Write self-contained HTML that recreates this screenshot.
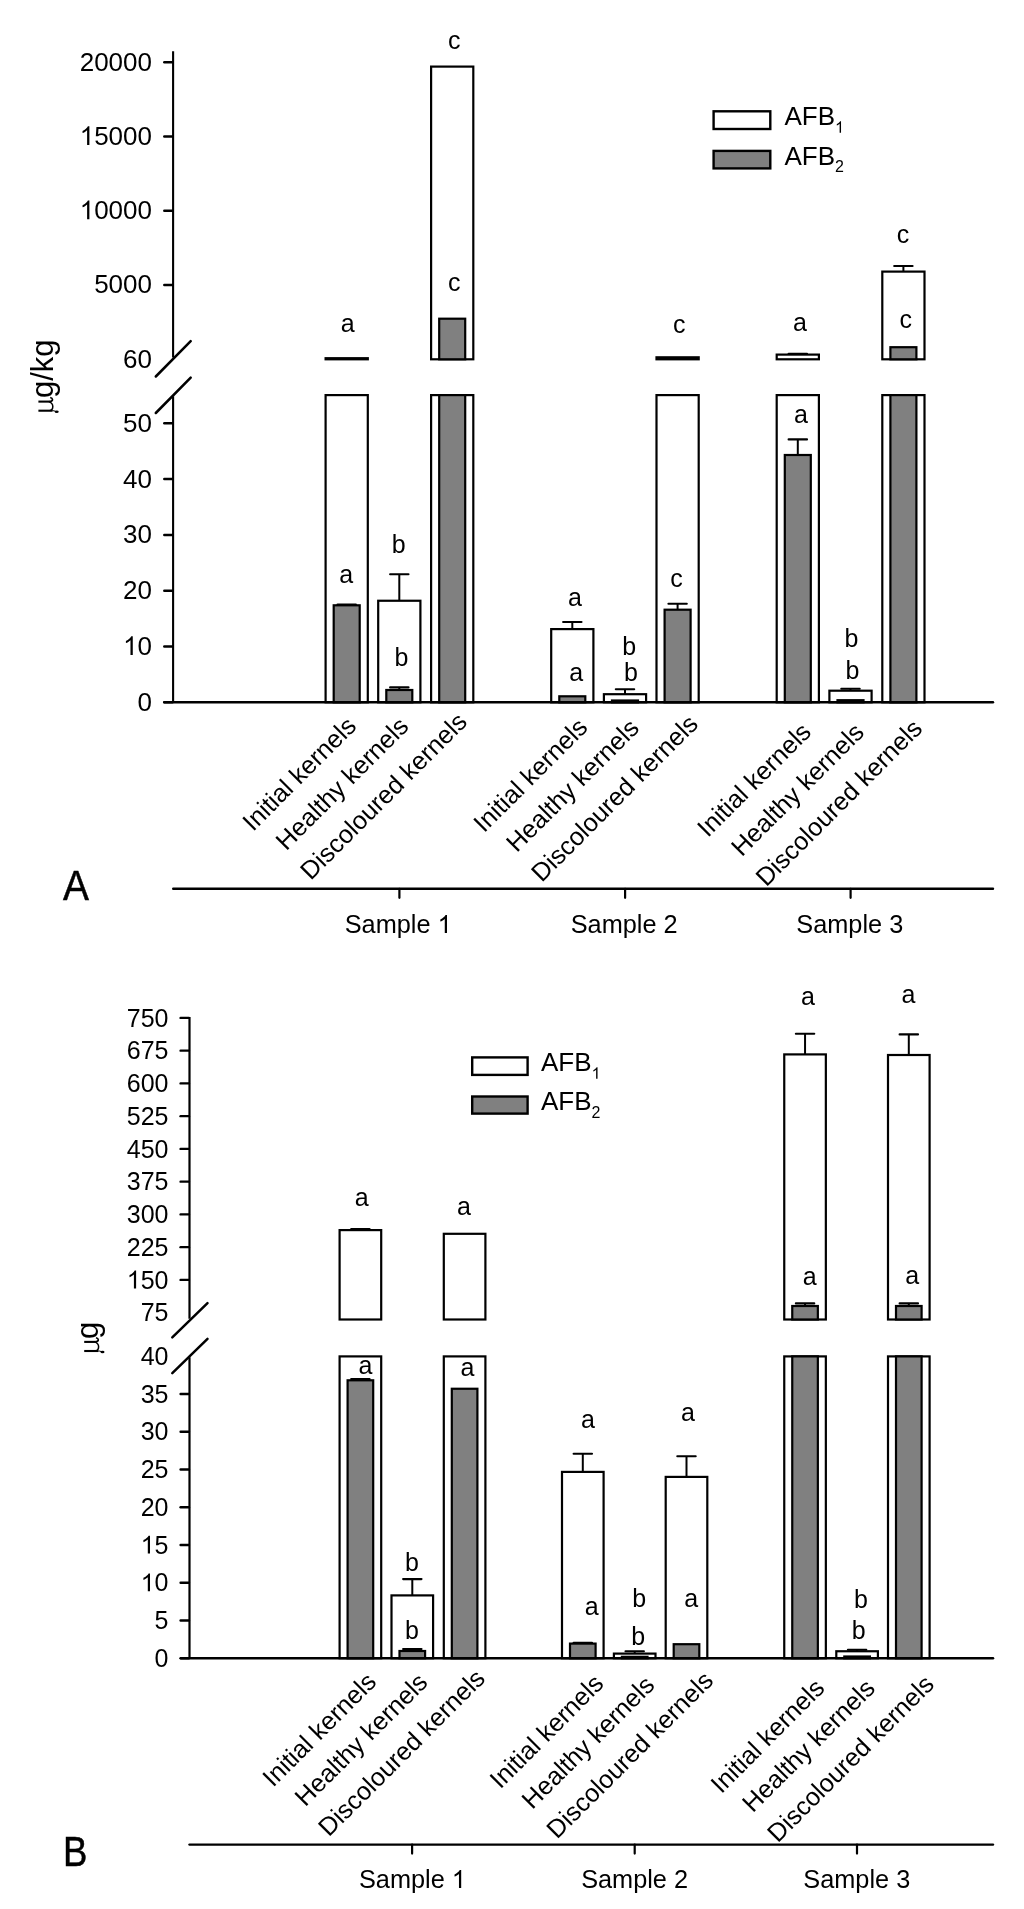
<!DOCTYPE html>
<html><head><meta charset="utf-8"><title>Aflatoxin chart</title>
<style>
html,body{margin:0;padding:0;background:#fff;}
svg{display:block;will-change:transform;}
svg text{font-family:"Liberation Sans", sans-serif;fill:#000;}
</style></head>
<body>
<svg width="1024" height="1909" viewBox="0 0 1024 1909">
<rect x="0" y="0" width="1024" height="1909" fill="#fff"/>
<g>
<rect x="325.60" y="395.10" width="42.20" height="307.20" fill="#fff" stroke="#000" stroke-width="2.2"/>
<rect x="325.60" y="358.20" width="42.20" height="1.10" fill="#fff" stroke="#000" stroke-width="2.2"/>
<rect x="333.70" y="605.30" width="26.00" height="97.00" fill="#808080" stroke="#000" stroke-width="2.2"/>
<line x1="346.70" y1="605.30" x2="346.70" y2="604.60" stroke="#000" stroke-width="2.0" stroke-linecap="butt"/>
<line x1="337.50" y1="604.60" x2="355.90" y2="604.60" stroke="#000" stroke-width="2.1" stroke-linecap="round"/>
<rect x="378.20" y="600.75" width="42.20" height="101.55" fill="#fff" stroke="#000" stroke-width="2.2"/>
<line x1="399.30" y1="600.75" x2="399.30" y2="574.20" stroke="#000" stroke-width="2.0" stroke-linecap="butt"/>
<line x1="390.10" y1="574.20" x2="408.50" y2="574.20" stroke="#000" stroke-width="2.1" stroke-linecap="round"/>
<rect x="386.30" y="690.00" width="26.00" height="12.30" fill="#808080" stroke="#000" stroke-width="2.2"/>
<line x1="399.30" y1="690.00" x2="399.30" y2="687.40" stroke="#000" stroke-width="2.0" stroke-linecap="butt"/>
<line x1="390.10" y1="687.40" x2="408.50" y2="687.40" stroke="#000" stroke-width="2.1" stroke-linecap="round"/>
<rect x="431.10" y="395.10" width="42.20" height="307.20" fill="#fff" stroke="#000" stroke-width="2.2"/>
<rect x="431.10" y="66.60" width="42.20" height="292.70" fill="#fff" stroke="#000" stroke-width="2.2"/>
<rect x="439.20" y="395.10" width="26.00" height="307.20" fill="#808080" stroke="#000" stroke-width="2.2"/>
<rect x="439.20" y="318.70" width="26.00" height="40.60" fill="#808080" stroke="#000" stroke-width="2.2"/>
<rect x="551.20" y="629.10" width="42.20" height="73.20" fill="#fff" stroke="#000" stroke-width="2.2"/>
<line x1="572.30" y1="629.10" x2="572.30" y2="622.00" stroke="#000" stroke-width="2.0" stroke-linecap="butt"/>
<line x1="563.10" y1="622.00" x2="581.50" y2="622.00" stroke="#000" stroke-width="2.1" stroke-linecap="round"/>
<rect x="559.30" y="696.30" width="26.00" height="6.00" fill="#808080" stroke="#000" stroke-width="2.2"/>
<rect x="603.90" y="694.20" width="42.20" height="8.10" fill="#fff" stroke="#000" stroke-width="2.2"/>
<line x1="625.00" y1="694.20" x2="625.00" y2="689.20" stroke="#000" stroke-width="2.0" stroke-linecap="butt"/>
<line x1="615.80" y1="689.20" x2="634.20" y2="689.20" stroke="#000" stroke-width="2.1" stroke-linecap="round"/>
<rect x="612.00" y="700.50" width="26.00" height="1.80" fill="#808080" stroke="#000" stroke-width="2.2"/>
<rect x="656.50" y="395.10" width="42.20" height="307.20" fill="#fff" stroke="#000" stroke-width="2.2"/>
<rect x="656.50" y="357.30" width="42.20" height="2.00" fill="#fff" stroke="#000" stroke-width="2.2"/>
<rect x="664.60" y="609.70" width="26.00" height="92.60" fill="#808080" stroke="#000" stroke-width="2.2"/>
<line x1="677.60" y1="609.70" x2="677.60" y2="603.70" stroke="#000" stroke-width="2.0" stroke-linecap="butt"/>
<line x1="668.40" y1="603.70" x2="686.80" y2="603.70" stroke="#000" stroke-width="2.1" stroke-linecap="round"/>
<rect x="776.70" y="395.10" width="42.20" height="307.20" fill="#fff" stroke="#000" stroke-width="2.2"/>
<rect x="776.70" y="354.60" width="42.20" height="4.70" fill="#fff" stroke="#000" stroke-width="2.2"/>
<line x1="797.80" y1="354.60" x2="797.80" y2="353.80" stroke="#000" stroke-width="2.0" stroke-linecap="butt"/>
<line x1="788.60" y1="353.80" x2="807.00" y2="353.80" stroke="#000" stroke-width="2.1" stroke-linecap="round"/>
<rect x="784.80" y="455.00" width="26.00" height="247.30" fill="#808080" stroke="#000" stroke-width="2.2"/>
<line x1="797.80" y1="455.00" x2="797.80" y2="439.40" stroke="#000" stroke-width="2.0" stroke-linecap="butt"/>
<line x1="788.60" y1="439.40" x2="807.00" y2="439.40" stroke="#000" stroke-width="2.1" stroke-linecap="round"/>
<rect x="829.40" y="690.70" width="42.20" height="11.60" fill="#fff" stroke="#000" stroke-width="2.2"/>
<line x1="850.50" y1="690.70" x2="850.50" y2="688.80" stroke="#000" stroke-width="2.0" stroke-linecap="butt"/>
<line x1="841.30" y1="688.80" x2="859.70" y2="688.80" stroke="#000" stroke-width="2.1" stroke-linecap="round"/>
<rect x="837.50" y="700.20" width="26.00" height="2.10" fill="#808080" stroke="#000" stroke-width="2.2"/>
<rect x="882.30" y="395.10" width="42.20" height="307.20" fill="#fff" stroke="#000" stroke-width="2.2"/>
<rect x="882.30" y="271.60" width="42.20" height="87.70" fill="#fff" stroke="#000" stroke-width="2.2"/>
<line x1="903.40" y1="271.60" x2="903.40" y2="266.00" stroke="#000" stroke-width="2.0" stroke-linecap="butt"/>
<line x1="894.20" y1="266.00" x2="912.60" y2="266.00" stroke="#000" stroke-width="2.1" stroke-linecap="round"/>
<rect x="890.40" y="395.10" width="26.00" height="307.20" fill="#808080" stroke="#000" stroke-width="2.2"/>
<rect x="890.40" y="347.20" width="26.00" height="12.10" fill="#808080" stroke="#000" stroke-width="2.2"/>
</g>
<line x1="173.10" y1="51.25" x2="173.10" y2="357.50" stroke="#000" stroke-width="2.1" stroke-linecap="butt"/>
<line x1="173.10" y1="396.20" x2="173.10" y2="702.30" stroke="#000" stroke-width="2.1" stroke-linecap="butt"/>
<line x1="164.30" y1="702.30" x2="993.00" y2="702.30" stroke="#000" stroke-width="2.4" stroke-linecap="round"/>
<line x1="155.80" y1="376.50" x2="190.70" y2="341.10" stroke="#000" stroke-width="2.5" stroke-linecap="round"/>
<line x1="155.80" y1="413.00" x2="190.70" y2="377.70" stroke="#000" stroke-width="2.5" stroke-linecap="round"/>
<line x1="164.30" y1="62.25" x2="172.50" y2="62.25" stroke="#000" stroke-width="2.5" stroke-linecap="round"/>
<text x="152.00" y="70.65" font-size="26" text-anchor="end" >20000</text>
<line x1="164.30" y1="136.50" x2="172.50" y2="136.50" stroke="#000" stroke-width="2.5" stroke-linecap="round"/>
<path transform="translate(79.70 144.90) scale(0.01270 -0.01270)" d="M763 0H583V1147Q518 1085 412 1023Q307 961 223 930V1104Q374 1175 487 1276Q600 1377 647 1472H763Z" fill="#000"/>
<text x="152.00" y="144.90" font-size="26" text-anchor="end" > 5000</text>
<line x1="164.30" y1="210.75" x2="172.50" y2="210.75" stroke="#000" stroke-width="2.5" stroke-linecap="round"/>
<path transform="translate(79.70 219.15) scale(0.01270 -0.01270)" d="M763 0H583V1147Q518 1085 412 1023Q307 961 223 930V1104Q374 1175 487 1276Q600 1377 647 1472H763Z" fill="#000"/>
<text x="152.00" y="219.15" font-size="26" text-anchor="end" > 0000</text>
<line x1="164.30" y1="285.00" x2="172.50" y2="285.00" stroke="#000" stroke-width="2.5" stroke-linecap="round"/>
<text x="152.00" y="293.40" font-size="26" text-anchor="end" >5000</text>
<text x="152.00" y="367.70" font-size="26" text-anchor="end" >60</text>
<line x1="164.30" y1="423.30" x2="172.50" y2="423.30" stroke="#000" stroke-width="2.5" stroke-linecap="round"/>
<text x="152.00" y="431.70" font-size="26" text-anchor="end" >50</text>
<line x1="164.30" y1="479.10" x2="172.50" y2="479.10" stroke="#000" stroke-width="2.5" stroke-linecap="round"/>
<text x="152.00" y="487.50" font-size="26" text-anchor="end" >40</text>
<line x1="164.30" y1="534.90" x2="172.50" y2="534.90" stroke="#000" stroke-width="2.5" stroke-linecap="round"/>
<text x="152.00" y="543.30" font-size="26" text-anchor="end" >30</text>
<line x1="164.30" y1="590.70" x2="172.50" y2="590.70" stroke="#000" stroke-width="2.5" stroke-linecap="round"/>
<text x="152.00" y="599.10" font-size="26" text-anchor="end" >20</text>
<line x1="164.30" y1="646.50" x2="172.50" y2="646.50" stroke="#000" stroke-width="2.5" stroke-linecap="round"/>
<path transform="translate(123.08 654.90) scale(0.01270 -0.01270)" d="M763 0H583V1147Q518 1085 412 1023Q307 961 223 930V1104Q374 1175 487 1276Q600 1377 647 1472H763Z" fill="#000"/>
<text x="152.00" y="654.90" font-size="26" text-anchor="end" > 0</text>
<line x1="164.30" y1="702.30" x2="172.50" y2="702.30" stroke="#000" stroke-width="2.5" stroke-linecap="round"/>
<text x="152.00" y="710.70" font-size="26" text-anchor="end" >0</text>
<text x="347.60" y="332.25" font-size="25" text-anchor="middle" >a</text>
<text x="346.20" y="582.80" font-size="25" text-anchor="middle" >a</text>
<text x="398.60" y="553.40" font-size="25" text-anchor="middle" >b</text>
<text x="401.50" y="665.90" font-size="25" text-anchor="middle" >b</text>
<text x="454.20" y="48.50" font-size="25" text-anchor="middle" >c</text>
<text x="454.30" y="290.60" font-size="25" text-anchor="middle" >c</text>
<text x="574.85" y="605.60" font-size="25" text-anchor="middle" >a</text>
<text x="576.20" y="680.60" font-size="25" text-anchor="middle" >a</text>
<text x="629.20" y="655.25" font-size="25" text-anchor="middle" >b</text>
<text x="630.90" y="680.60" font-size="25" text-anchor="middle" >b</text>
<text x="679.30" y="332.50" font-size="25" text-anchor="middle" >c</text>
<text x="676.50" y="587.20" font-size="25" text-anchor="middle" >c</text>
<text x="799.90" y="331.00" font-size="25" text-anchor="middle" >a</text>
<text x="800.85" y="422.75" font-size="25" text-anchor="middle" >a</text>
<text x="851.50" y="646.50" font-size="25" text-anchor="middle" >b</text>
<text x="852.40" y="678.75" font-size="25" text-anchor="middle" >b</text>
<text x="903.00" y="242.50" font-size="25" text-anchor="middle" >c</text>
<text x="905.85" y="327.80" font-size="25" text-anchor="middle" >c</text>
<rect x="713.60" y="111.30" width="56.70" height="17.70" fill="#fff" stroke="#000" stroke-width="2.4"/>
<rect x="713.60" y="150.90" width="56.70" height="17.50" fill="#808080" stroke="#000" stroke-width="2.4"/>
<text x="784.50" y="125.30" font-size="26" text-anchor="start" >AFB<tspan font-size="16" dy="7.4"> </tspan></text>
<path transform="translate(835.07 132.70) scale(0.00781 -0.00781)" d="M763 0H583V1147Q518 1085 412 1023Q307 961 223 930V1104Q374 1175 487 1276Q600 1377 647 1472H763Z" fill="#000"/>
<text x="784.50" y="164.50" font-size="26" text-anchor="start" >AFB<tspan font-size="16" dy="7.4">2</tspan></text>
<g transform="translate(52.10 410.70) rotate(-90) scale(1.0)" fill="none" stroke="#000" stroke-linecap="butt"><path d="M0 -13.7V0.3" stroke-width="2.1"/><path d="M0 0Q0.1 2.2 -0.6 3.3" stroke-width="1.0"/><ellipse cx="-1.0" cy="4.6" rx="1.25" ry="2.0" fill="#000" stroke="none"/><path d="M0.2 -2.2Q0.6 0.7 4.2 0.7Q7.7 0.7 9.1 -3.2" stroke-width="1.5"/><path d="M9.1 -13.7V-2.2" stroke-width="2.1"/><path d="M9.1 -2.6Q9.3 0.5 11.2 0.4Q12.7 0.3 13.3 -1.9" stroke-width="1.6"/></g>
<text x="0" y="0" font-size="31" text-anchor="start" transform="translate(52.60 398.00) rotate(-90)">g/kg</text>
<line x1="173.20" y1="888.80" x2="993.00" y2="888.80" stroke="#000" stroke-width="2.4" stroke-linecap="round"/>
<line x1="399.40" y1="888.80" x2="399.40" y2="897.80" stroke="#000" stroke-width="2.2" stroke-linecap="round"/>
<line x1="625.10" y1="888.80" x2="625.10" y2="897.80" stroke="#000" stroke-width="2.2" stroke-linecap="round"/>
<line x1="850.60" y1="888.80" x2="850.60" y2="897.80" stroke="#000" stroke-width="2.2" stroke-linecap="round"/>
<path transform="translate(437.57 933.10) scale(0.01235 -0.01235)" d="M763 0H583V1147Q518 1085 412 1023Q307 961 223 930V1104Q374 1175 487 1276Q600 1377 647 1472H763Z" fill="#000"/>
<text x="398.20" y="933.10" font-size="25.3" text-anchor="middle" >Sample  </text>
<text x="624.20" y="933.10" font-size="25.3" text-anchor="middle" >Sample 2</text>
<text x="849.80" y="933.10" font-size="25.3" text-anchor="middle" >Sample 3</text>
<text x="0" y="0" font-size="43" stroke="#000" stroke-width="0.5" transform="translate(63.00 899.60) scale(0.905 1)">A</text>
<text x="0" y="0" font-size="25.4" text-anchor="end" transform="translate(357.70 727.50) rotate(-45)">Initial kernels</text>
<text x="0" y="0" font-size="25.4" text-anchor="end" transform="translate(410.05 727.70) rotate(-45)">Healthy kernels</text>
<text x="0" y="0" font-size="25.4" text-anchor="end" transform="translate(468.50 723.30) rotate(-45)">Discoloured kernels</text>
<text x="0" y="0" font-size="25.4" text-anchor="end" transform="translate(588.90 728.80) rotate(-45)">Initial kernels</text>
<text x="0" y="0" font-size="25.4" text-anchor="end" transform="translate(640.50 729.60) rotate(-45)">Healthy kernels</text>
<text x="0" y="0" font-size="25.4" text-anchor="end" transform="translate(699.40 725.40) rotate(-45)">Discoloured kernels</text>
<text x="0" y="0" font-size="25.4" text-anchor="end" transform="translate(812.60 733.40) rotate(-45)">Initial kernels</text>
<text x="0" y="0" font-size="25.4" text-anchor="end" transform="translate(865.40 733.80) rotate(-45)">Healthy kernels</text>
<text x="0" y="0" font-size="25.4" text-anchor="end" transform="translate(923.80 729.90) rotate(-45)">Discoloured kernels</text>
<g>
<rect x="339.60" y="1356.40" width="41.60" height="301.85" fill="#fff" stroke="#000" stroke-width="2.2"/>
<rect x="339.60" y="1230.10" width="41.60" height="89.40" fill="#fff" stroke="#000" stroke-width="2.2"/>
<line x1="360.40" y1="1230.10" x2="360.40" y2="1229.10" stroke="#000" stroke-width="2.0" stroke-linecap="butt"/>
<line x1="351.20" y1="1229.10" x2="369.60" y2="1229.10" stroke="#000" stroke-width="2.1" stroke-linecap="round"/>
<rect x="347.60" y="1380.30" width="25.60" height="277.95" fill="#808080" stroke="#000" stroke-width="2.2"/>
<line x1="360.40" y1="1380.30" x2="360.40" y2="1379.00" stroke="#000" stroke-width="2.0" stroke-linecap="butt"/>
<line x1="351.20" y1="1379.00" x2="369.60" y2="1379.00" stroke="#000" stroke-width="2.1" stroke-linecap="round"/>
<rect x="391.50" y="1595.40" width="41.60" height="62.85" fill="#fff" stroke="#000" stroke-width="2.2"/>
<line x1="412.30" y1="1595.40" x2="412.30" y2="1579.10" stroke="#000" stroke-width="2.0" stroke-linecap="butt"/>
<line x1="403.10" y1="1579.10" x2="421.50" y2="1579.10" stroke="#000" stroke-width="2.1" stroke-linecap="round"/>
<rect x="399.50" y="1651.00" width="25.60" height="7.25" fill="#808080" stroke="#000" stroke-width="2.2"/>
<line x1="412.30" y1="1651.00" x2="412.30" y2="1649.10" stroke="#000" stroke-width="2.0" stroke-linecap="butt"/>
<line x1="403.10" y1="1649.10" x2="421.50" y2="1649.10" stroke="#000" stroke-width="2.1" stroke-linecap="round"/>
<rect x="443.80" y="1356.40" width="41.60" height="301.85" fill="#fff" stroke="#000" stroke-width="2.2"/>
<rect x="443.80" y="1233.80" width="41.60" height="85.70" fill="#fff" stroke="#000" stroke-width="2.2"/>
<rect x="451.80" y="1388.75" width="25.60" height="269.50" fill="#808080" stroke="#000" stroke-width="2.2"/>
<rect x="562.00" y="1471.90" width="41.60" height="186.35" fill="#fff" stroke="#000" stroke-width="2.2"/>
<line x1="582.80" y1="1471.90" x2="582.80" y2="1453.70" stroke="#000" stroke-width="2.0" stroke-linecap="butt"/>
<line x1="573.60" y1="1453.70" x2="592.00" y2="1453.70" stroke="#000" stroke-width="2.1" stroke-linecap="round"/>
<rect x="570.00" y="1643.60" width="25.60" height="14.65" fill="#808080" stroke="#000" stroke-width="2.2"/>
<line x1="582.80" y1="1643.60" x2="582.80" y2="1642.85" stroke="#000" stroke-width="2.0" stroke-linecap="butt"/>
<line x1="573.60" y1="1642.85" x2="592.00" y2="1642.85" stroke="#000" stroke-width="2.1" stroke-linecap="round"/>
<rect x="613.90" y="1653.60" width="41.60" height="4.65" fill="#fff" stroke="#000" stroke-width="2.2"/>
<line x1="634.70" y1="1653.60" x2="634.70" y2="1651.20" stroke="#000" stroke-width="2.0" stroke-linecap="butt"/>
<line x1="625.50" y1="1651.20" x2="643.90" y2="1651.20" stroke="#000" stroke-width="2.1" stroke-linecap="round"/>
<rect x="621.90" y="1656.80" width="25.60" height="1.45" fill="#808080" stroke="#000" stroke-width="2.2"/>
<rect x="665.70" y="1476.90" width="41.60" height="181.35" fill="#fff" stroke="#000" stroke-width="2.2"/>
<line x1="686.50" y1="1476.90" x2="686.50" y2="1456.30" stroke="#000" stroke-width="2.0" stroke-linecap="butt"/>
<line x1="677.30" y1="1456.30" x2="695.70" y2="1456.30" stroke="#000" stroke-width="2.1" stroke-linecap="round"/>
<rect x="673.70" y="1644.20" width="25.60" height="14.05" fill="#808080" stroke="#000" stroke-width="2.2"/>
<rect x="784.25" y="1356.40" width="41.60" height="301.85" fill="#fff" stroke="#000" stroke-width="2.2"/>
<rect x="784.25" y="1054.40" width="41.60" height="265.10" fill="#fff" stroke="#000" stroke-width="2.2"/>
<line x1="805.05" y1="1054.40" x2="805.05" y2="1033.80" stroke="#000" stroke-width="2.0" stroke-linecap="butt"/>
<line x1="795.85" y1="1033.80" x2="814.25" y2="1033.80" stroke="#000" stroke-width="2.1" stroke-linecap="round"/>
<rect x="792.25" y="1356.40" width="25.60" height="301.85" fill="#808080" stroke="#000" stroke-width="2.2"/>
<rect x="792.25" y="1306.00" width="25.60" height="13.50" fill="#808080" stroke="#000" stroke-width="2.2"/>
<line x1="805.05" y1="1306.00" x2="805.05" y2="1303.40" stroke="#000" stroke-width="2.0" stroke-linecap="butt"/>
<line x1="795.85" y1="1303.40" x2="814.25" y2="1303.40" stroke="#000" stroke-width="2.1" stroke-linecap="round"/>
<rect x="836.30" y="1651.25" width="41.60" height="7.00" fill="#fff" stroke="#000" stroke-width="2.2"/>
<line x1="857.10" y1="1651.25" x2="857.10" y2="1649.70" stroke="#000" stroke-width="2.0" stroke-linecap="butt"/>
<line x1="847.90" y1="1649.70" x2="866.30" y2="1649.70" stroke="#000" stroke-width="2.1" stroke-linecap="round"/>
<rect x="844.30" y="1656.50" width="25.60" height="1.75" fill="#808080" stroke="#000" stroke-width="2.2"/>
<rect x="888.00" y="1356.40" width="41.60" height="301.85" fill="#fff" stroke="#000" stroke-width="2.2"/>
<rect x="888.00" y="1055.00" width="41.60" height="264.50" fill="#fff" stroke="#000" stroke-width="2.2"/>
<line x1="908.80" y1="1055.00" x2="908.80" y2="1034.40" stroke="#000" stroke-width="2.0" stroke-linecap="butt"/>
<line x1="899.60" y1="1034.40" x2="918.00" y2="1034.40" stroke="#000" stroke-width="2.1" stroke-linecap="round"/>
<rect x="896.00" y="1356.40" width="25.60" height="301.85" fill="#808080" stroke="#000" stroke-width="2.2"/>
<rect x="896.00" y="1306.00" width="25.60" height="13.50" fill="#808080" stroke="#000" stroke-width="2.2"/>
<line x1="908.80" y1="1306.00" x2="908.80" y2="1303.40" stroke="#000" stroke-width="2.0" stroke-linecap="butt"/>
<line x1="899.60" y1="1303.40" x2="918.00" y2="1303.40" stroke="#000" stroke-width="2.1" stroke-linecap="round"/>
</g>
<line x1="189.50" y1="1016.90" x2="189.50" y2="1318.80" stroke="#000" stroke-width="2.2" stroke-linecap="butt"/>
<line x1="189.50" y1="1357.20" x2="189.50" y2="1658.25" stroke="#000" stroke-width="2.2" stroke-linecap="butt"/>
<line x1="181.00" y1="1658.25" x2="993.00" y2="1658.25" stroke="#000" stroke-width="2.5" stroke-linecap="round"/>
<line x1="172.30" y1="1337.30" x2="207.50" y2="1303.10" stroke="#000" stroke-width="2.5" stroke-linecap="round"/>
<line x1="172.30" y1="1373.20" x2="207.50" y2="1338.90" stroke="#000" stroke-width="2.5" stroke-linecap="round"/>
<line x1="180.60" y1="1017.90" x2="188.90" y2="1017.90" stroke="#000" stroke-width="2.4" stroke-linecap="round"/>
<text x="168.50" y="1026.50" font-size="25" text-anchor="end" >750</text>
<line x1="180.60" y1="1050.65" x2="188.90" y2="1050.65" stroke="#000" stroke-width="2.4" stroke-linecap="round"/>
<text x="168.50" y="1059.25" font-size="25" text-anchor="end" >675</text>
<line x1="180.60" y1="1083.40" x2="188.90" y2="1083.40" stroke="#000" stroke-width="2.4" stroke-linecap="round"/>
<text x="168.50" y="1092.00" font-size="25" text-anchor="end" >600</text>
<line x1="180.60" y1="1116.16" x2="188.90" y2="1116.16" stroke="#000" stroke-width="2.4" stroke-linecap="round"/>
<text x="168.50" y="1124.76" font-size="25" text-anchor="end" >525</text>
<line x1="180.60" y1="1148.91" x2="188.90" y2="1148.91" stroke="#000" stroke-width="2.4" stroke-linecap="round"/>
<text x="168.50" y="1157.51" font-size="25" text-anchor="end" >450</text>
<line x1="180.60" y1="1181.66" x2="188.90" y2="1181.66" stroke="#000" stroke-width="2.4" stroke-linecap="round"/>
<text x="168.50" y="1190.26" font-size="25" text-anchor="end" >375</text>
<line x1="180.60" y1="1214.41" x2="188.90" y2="1214.41" stroke="#000" stroke-width="2.4" stroke-linecap="round"/>
<text x="168.50" y="1223.01" font-size="25" text-anchor="end" >300</text>
<line x1="180.60" y1="1247.17" x2="188.90" y2="1247.17" stroke="#000" stroke-width="2.4" stroke-linecap="round"/>
<text x="168.50" y="1255.77" font-size="25" text-anchor="end" >225</text>
<line x1="180.60" y1="1279.92" x2="188.90" y2="1279.92" stroke="#000" stroke-width="2.4" stroke-linecap="round"/>
<path transform="translate(126.79 1288.52) scale(0.01221 -0.01221)" d="M763 0H583V1147Q518 1085 412 1023Q307 961 223 930V1104Q374 1175 487 1276Q600 1377 647 1472H763Z" fill="#000"/>
<text x="168.50" y="1288.52" font-size="25" text-anchor="end" > 50</text>
<text x="168.50" y="1321.27" font-size="25" text-anchor="end" >75</text>
<text x="168.50" y="1364.85" font-size="25" text-anchor="end" >40</text>
<line x1="180.60" y1="1394.00" x2="188.90" y2="1394.00" stroke="#000" stroke-width="2.4" stroke-linecap="round"/>
<text x="168.50" y="1402.60" font-size="25" text-anchor="end" >35</text>
<line x1="180.60" y1="1431.75" x2="188.90" y2="1431.75" stroke="#000" stroke-width="2.4" stroke-linecap="round"/>
<text x="168.50" y="1440.35" font-size="25" text-anchor="end" >30</text>
<line x1="180.60" y1="1469.50" x2="188.90" y2="1469.50" stroke="#000" stroke-width="2.4" stroke-linecap="round"/>
<text x="168.50" y="1478.10" font-size="25" text-anchor="end" >25</text>
<line x1="180.60" y1="1507.25" x2="188.90" y2="1507.25" stroke="#000" stroke-width="2.4" stroke-linecap="round"/>
<text x="168.50" y="1515.85" font-size="25" text-anchor="end" >20</text>
<line x1="180.60" y1="1545.00" x2="188.90" y2="1545.00" stroke="#000" stroke-width="2.4" stroke-linecap="round"/>
<path transform="translate(140.69 1553.60) scale(0.01221 -0.01221)" d="M763 0H583V1147Q518 1085 412 1023Q307 961 223 930V1104Q374 1175 487 1276Q600 1377 647 1472H763Z" fill="#000"/>
<text x="168.50" y="1553.60" font-size="25" text-anchor="end" > 5</text>
<line x1="180.60" y1="1582.75" x2="188.90" y2="1582.75" stroke="#000" stroke-width="2.4" stroke-linecap="round"/>
<path transform="translate(140.69 1591.35) scale(0.01221 -0.01221)" d="M763 0H583V1147Q518 1085 412 1023Q307 961 223 930V1104Q374 1175 487 1276Q600 1377 647 1472H763Z" fill="#000"/>
<text x="168.50" y="1591.35" font-size="25" text-anchor="end" > 0</text>
<line x1="180.60" y1="1620.50" x2="188.90" y2="1620.50" stroke="#000" stroke-width="2.4" stroke-linecap="round"/>
<text x="168.50" y="1629.10" font-size="25" text-anchor="end" >5</text>
<line x1="180.60" y1="1658.25" x2="188.90" y2="1658.25" stroke="#000" stroke-width="2.4" stroke-linecap="round"/>
<text x="168.50" y="1666.85" font-size="25" text-anchor="end" >0</text>
<text x="361.80" y="1206.25" font-size="25" text-anchor="middle" >a</text>
<text x="365.50" y="1374.30" font-size="25" text-anchor="middle" >a</text>
<text x="412.00" y="1571.00" font-size="25" text-anchor="middle" >b</text>
<text x="412.00" y="1639.40" font-size="25" text-anchor="middle" >b</text>
<text x="464.00" y="1215.25" font-size="25" text-anchor="middle" >a</text>
<text x="467.35" y="1376.00" font-size="25" text-anchor="middle" >a</text>
<text x="588.00" y="1428.40" font-size="25" text-anchor="middle" >a</text>
<text x="591.80" y="1614.60" font-size="25" text-anchor="middle" >a</text>
<text x="639.20" y="1607.10" font-size="25" text-anchor="middle" >b</text>
<text x="638.10" y="1644.60" font-size="25" text-anchor="middle" >b</text>
<text x="688.00" y="1420.90" font-size="25" text-anchor="middle" >a</text>
<text x="691.20" y="1607.10" font-size="25" text-anchor="middle" >a</text>
<text x="808.00" y="1004.90" font-size="25" text-anchor="middle" >a</text>
<text x="809.60" y="1285.00" font-size="25" text-anchor="middle" >a</text>
<text x="860.90" y="1608.10" font-size="25" text-anchor="middle" >b</text>
<text x="858.60" y="1638.50" font-size="25" text-anchor="middle" >b</text>
<text x="908.35" y="1003.00" font-size="25" text-anchor="middle" >a</text>
<text x="912.10" y="1283.50" font-size="25" text-anchor="middle" >a</text>
<rect x="472.20" y="1057.40" width="55.40" height="17.50" fill="#fff" stroke="#000" stroke-width="2.4"/>
<rect x="472.20" y="1096.50" width="55.40" height="17.10" fill="#808080" stroke="#000" stroke-width="2.4"/>
<text x="541.00" y="1071.40" font-size="26" text-anchor="start" >AFB<tspan font-size="16" dy="7.4"> </tspan></text>
<path transform="translate(591.57 1078.80) scale(0.00781 -0.00781)" d="M763 0H583V1147Q518 1085 412 1023Q307 961 223 930V1104Q374 1175 487 1276Q600 1377 647 1472H763Z" fill="#000"/>
<text x="541.00" y="1110.30" font-size="26" text-anchor="start" >AFB<tspan font-size="16" dy="7.4">2</tspan></text>
<g transform="translate(97.90 1351.00) rotate(-90) scale(1.0)" fill="none" stroke="#000" stroke-linecap="butt"><path d="M0 -13.7V0.3" stroke-width="2.1"/><path d="M0 0Q0.1 2.2 -0.6 3.3" stroke-width="1.0"/><ellipse cx="-1.0" cy="4.6" rx="1.25" ry="2.0" fill="#000" stroke="none"/><path d="M0.2 -2.2Q0.6 0.7 4.2 0.7Q7.7 0.7 9.1 -3.2" stroke-width="1.5"/><path d="M9.1 -13.7V-2.2" stroke-width="2.1"/><path d="M9.1 -2.6Q9.3 0.5 11.2 0.4Q12.7 0.3 13.3 -1.9" stroke-width="1.6"/></g>
<text x="0" y="0" font-size="31" text-anchor="start" transform="translate(98.10 1339.00) rotate(-90)">g</text>
<line x1="189.50" y1="1844.60" x2="993.00" y2="1844.60" stroke="#000" stroke-width="2.4" stroke-linecap="round"/>
<line x1="412.10" y1="1844.60" x2="412.10" y2="1853.60" stroke="#000" stroke-width="2.2" stroke-linecap="round"/>
<line x1="634.70" y1="1844.60" x2="634.70" y2="1853.60" stroke="#000" stroke-width="2.2" stroke-linecap="round"/>
<line x1="857.00" y1="1844.60" x2="857.00" y2="1853.60" stroke="#000" stroke-width="2.2" stroke-linecap="round"/>
<path transform="translate(451.77 1888.10) scale(0.01235 -0.01235)" d="M763 0H583V1147Q518 1085 412 1023Q307 961 223 930V1104Q374 1175 487 1276Q600 1377 647 1472H763Z" fill="#000"/>
<text x="412.40" y="1888.10" font-size="25.3" text-anchor="middle" >Sample  </text>
<text x="634.60" y="1888.10" font-size="25.3" text-anchor="middle" >Sample 2</text>
<text x="856.80" y="1888.10" font-size="25.3" text-anchor="middle" >Sample 3</text>
<text x="0" y="0" font-size="43" stroke="#000" stroke-width="0.5" transform="translate(63.00 1866.20) scale(0.850 1)">B</text>
<text x="0" y="0" font-size="25.4" text-anchor="end" transform="translate(377.70 1683.30) rotate(-45)">Initial kernels</text>
<text x="0" y="0" font-size="25.4" text-anchor="end" transform="translate(429.10 1683.70) rotate(-45)">Healthy kernels</text>
<text x="0" y="0" font-size="25.4" text-anchor="end" transform="translate(486.50 1679.90) rotate(-45)">Discoloured kernels</text>
<text x="0" y="0" font-size="25.4" text-anchor="end" transform="translate(605.05 1685.00) rotate(-45)">Initial kernels</text>
<text x="0" y="0" font-size="25.4" text-anchor="end" transform="translate(656.05 1686.50) rotate(-45)">Healthy kernels</text>
<text x="0" y="0" font-size="25.4" text-anchor="end" transform="translate(714.70 1682.10) rotate(-45)">Discoloured kernels</text>
<text x="0" y="0" font-size="25.4" text-anchor="end" transform="translate(826.00 1689.60) rotate(-45)">Initial kernels</text>
<text x="0" y="0" font-size="25.4" text-anchor="end" transform="translate(876.50 1689.80) rotate(-45)">Healthy kernels</text>
<text x="0" y="0" font-size="25.4" text-anchor="end" transform="translate(935.40 1685.85) rotate(-45)">Discoloured kernels</text>
</svg>
</body></html>
